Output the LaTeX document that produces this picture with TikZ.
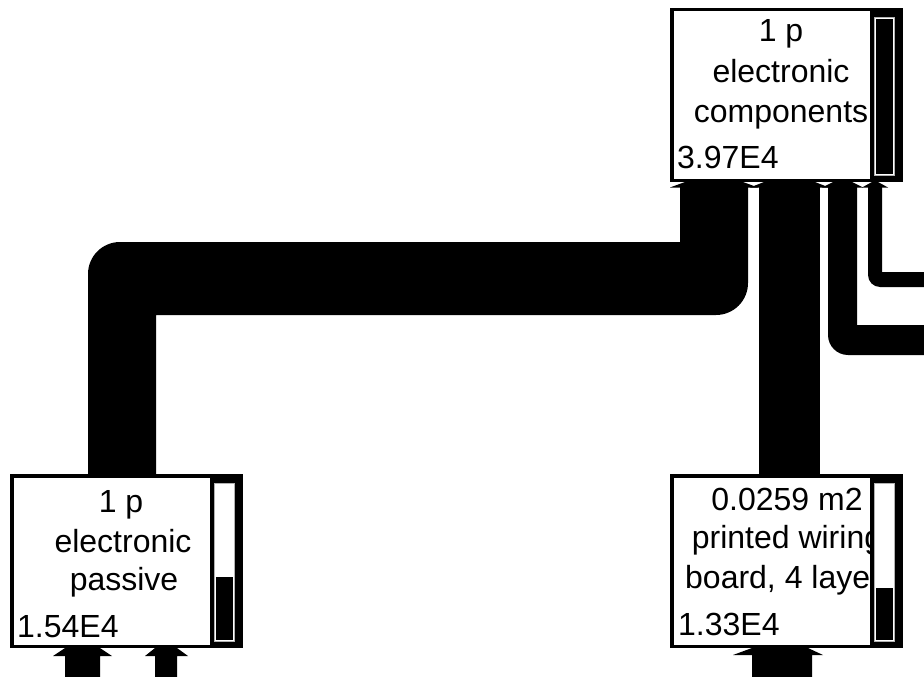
\documentclass[tikz,border=0pt]{standalone}
\usepackage{fontspec}
\setmainfont{Liberation Sans}
\usetikzlibrary{calc}
\newcommand\boxbg[3]{% name, x0, y0
  \begin{scope}[shift={(#2,#3)}]
    \fill[black] (0,0) rectangle (233,174);
    \fill[white] (3.5,3.5) rectangle (200,170.5);
    \node[inner sep=0pt, minimum width=233pt, minimum height=174pt, anchor=north west] (#1) at (0,0) {};
  \end{scope}}
\newcommand\boxbar[3]{% x0, y0, bar top
  \begin{scope}[shift={(#1,#2)}]
    \fill[black] (200,0) rectangle (233,174);
    \filldraw[fill=white, draw=gray!60, line width=0.8pt] (204,9) rectangle (224,167);
    \fill[black] (205.5,#3) rectangle (222.5,165.5);
  \end{scope}}
\begin{document}
\begin{tikzpicture}[x=1pt,y=-1pt,
  lbl/.style={inner sep=0pt, anchor=base, font=\fontsize{32}{38}\selectfont},
  num/.style={inner sep=0pt, anchor=base west, font=\fontsize{32}{38}\selectfont},
  flow/.style={fill=black}]
\useasboundingbox (0,0) rectangle (924,677);
\fill[white] (0,0) rectangle (924,677);

% ---- flows ----
% passive -> components
\fill[flow] (88,474) -- (88,274) arc[start angle=180, end angle=270, radius=32]
  -- (680,242) -- (680,182) -- (748,182) -- (748,283)
  arc[start angle=0, end angle=90, radius=32] -- (156,315) -- (156,474) -- cycle;
% pwb -> components
\fill[flow] (759,182) rectangle (820,474);
% right flows into components
\fill[flow] (828,187) -- (828,335) arc[start angle=180, end angle=90, radius=20]
  -- (924,355) -- (924,325) -- (857,325) -- (857,187) -- cycle;
\fill[flow] (868,187) -- (868,275) arc[start angle=180, end angle=90, radius=12]
  -- (924,287) -- (924,272) -- (882,272) -- (882,187) -- cycle;

% arrowheads under components
\fill[white] (670,182) rectangle (903,187);
\fill[flow] (685,182) -- (670,187.5) -- (758,187.5) -- (743,182) -- cycle;
\fill[flow] (764,182) -- (750,187.5) -- (829,187.5) -- (815,182) -- cycle;
\fill[flow] (833,182) -- (822,187.5) -- (863,187.5) -- (852,182) -- cycle;
\fill[flow] (872,182) -- (862,187.5) -- (888,187.5) -- (878,182) -- cycle;

% inputs below passive
\fill[flow] (65,648) -- (53,656) -- (65,656) -- (65,677) -- (100,677) -- (100,656) -- (112,656) -- (100,648) -- cycle;
\fill[flow] (155,648) -- (145,656) -- (155,656) -- (155,677) -- (177,677) -- (177,656) -- (188,656) -- (177,648) -- cycle;
% input below pwb
\fill[flow] (752,648) -- (733,655) -- (752,655) -- (752,677) -- (812,677) -- (812,655) -- (823,655) -- (808,648) -- cycle;

% ---- boxes ----
\boxbg{comp}{670}{8}
\node[lbl] (comp1) at (781,42) {1 p};
\node[lbl] (comp2) at (781,83) {electronic};
\node[lbl] (comp3) at (781,122) {components};
\node[num] (compv) at (677,168) {3.97E4};
\boxbar{670}{8}{11}

\boxbg{pas}{10}{474}
\node[lbl] (pas1) at (121,512) {1 p};
\node[lbl] (pas2) at (123,552) {electronic};
\node[lbl] (pas3) at (124,590) {passive};
\node[num] (pasv) at (17,637) {1.54E4};
\boxbar{10}{474}{103}

\boxbg{pwb}{670}{474}
\node[lbl] (pwb1) at (787,510) {0.0259 m2};
\node[lbl] (pwb2) at (787,548) {printed wiring};
\node[lbl] (pwb3) at (783,588) {board, 4 layer};
\node[num] (pwbv) at (678,635) {1.33E4};
\boxbar{670}{474}{114}
\end{tikzpicture}
\end{document}
